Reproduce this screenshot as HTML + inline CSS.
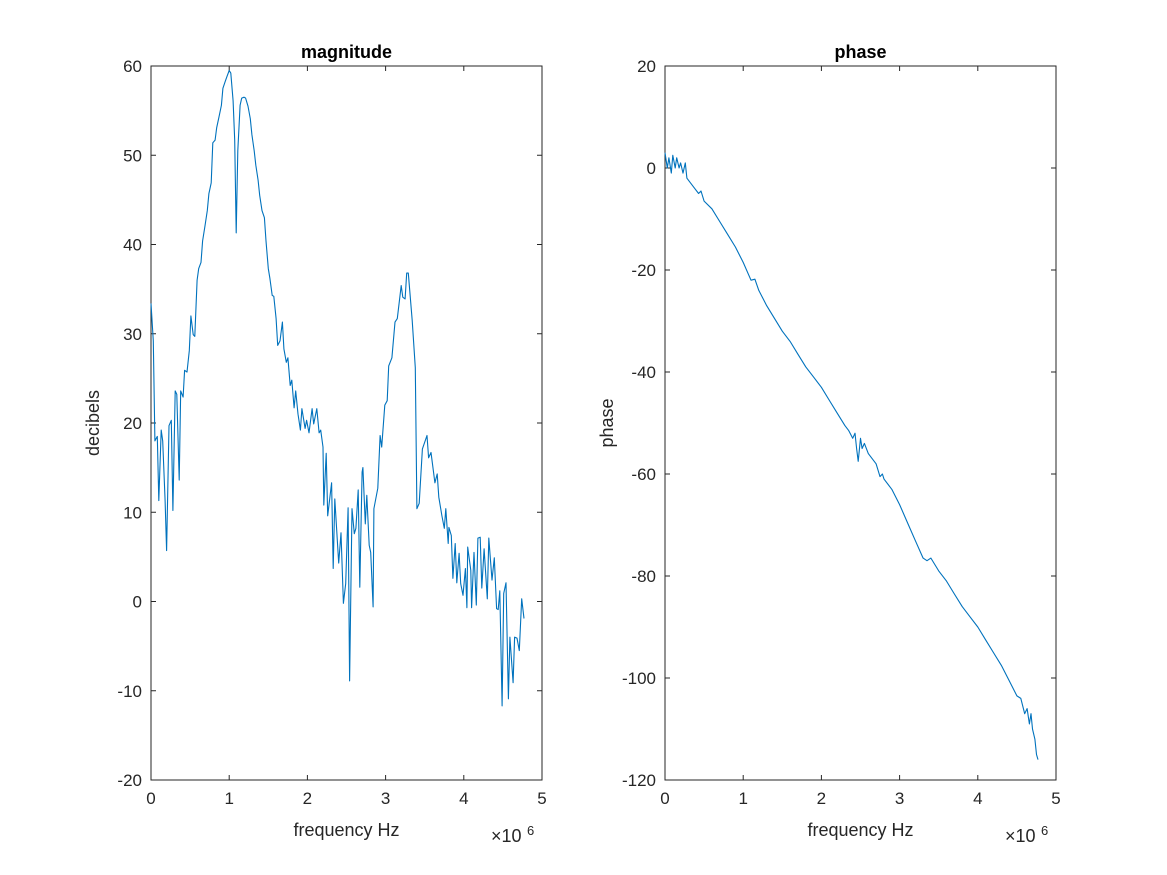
<!DOCTYPE html>
<html><head><meta charset="utf-8"><style>
body{margin:0;background:#fff;}
svg{display:block;font-family:"Liberation Sans",sans-serif;}
</style></head><body>
<svg id="fig" width="1167" height="875"></svg>
<script>
const magFreq=[0,.03,.05,.08,.10,.13,.15,.18,.20,.23,.26,.28,.31,.33,.36,.38,.41,.43,.46,.49,.51,.54,.56,.59,.61,.64,.66,.69,.72,.74,.77,.79,.82,.84,.87,.90,.92,.95,.97,1.00,1.02,1.05,1.07,1.09,1.11,1.14,1.16,1.19,1.21,1.24,1.27,1.29,1.32,1.34,1.37,1.39,1.42,1.45,1.47,1.50,1.52,1.55,1.57,1.60,1.62,1.65,1.68,1.70,1.73,1.75,1.78,1.80,1.83,1.85,1.88,1.91,1.93,1.97,1.99,2.02,2.06,2.08,2.12,2.15,2.17,2.20,2.21,2.24,2.26,2.31,2.33,2.35,2.40,2.43,2.46,2.49,2.52,2.54,2.57,2.60,2.62,2.65,2.67,2.70,2.71,2.74,2.76,2.79,2.81,2.84,2.85,2.90,2.93,2.95,2.99,3.02,3.04,3.08,3.12,3.15,3.20,3.22,3.25,3.27,3.29,3.34,3.38,3.40,3.43,3.47,3.53,3.55,3.58,3.61,3.63,3.66,3.68,3.72,3.75,3.77,3.80,3.81,3.84,3.86,3.89,3.91,3.94,3.96,3.99,4.02,4.04,4.05,4.09,4.10,4.13,4.16,4.18,4.21,4.23,4.26,4.30,4.32,4.36,4.39,4.42,4.44,4.46,4.49,4.51,4.54,4.57,4.59,4.63,4.65,4.68,4.71,4.74,4.77];
const magDb=[33.4,29.2,18.0,18.5,11.3,19.2,18.0,11.3,5.7,19.7,20.3,10.2,23.6,23.2,13.6,23.6,22.9,25.9,25.7,28.1,32.0,29.9,29.7,36.0,37.3,38.0,40.4,42.1,43.8,45.7,46.9,51.4,51.7,53.1,54.3,55.6,57.5,58.3,58.8,59.5,59.2,56.1,51.7,41.3,50.5,55.6,56.4,56.5,56.4,55.5,54.1,52.3,50.5,48.9,47.2,45.5,43.8,43.0,40.4,37.3,36.2,34.3,34.2,31.7,28.7,29.2,31.3,28.3,26.8,27.3,24.2,24.8,21.7,23.6,21.0,19.2,21.6,19.4,20.3,18.9,21.6,19.9,21.6,18.9,19.2,17.3,10.8,16.6,9.6,13.3,3.7,11.5,4.3,7.7,-0.2,2.0,10.5,-8.9,10.4,7.6,8.2,12.5,1.6,14.5,15.0,8.7,11.9,6.3,5.5,-0.6,10.4,12.7,18.6,17.3,22.0,22.5,26.4,27.3,31.3,31.7,35.4,34.1,33.9,36.8,36.8,31.5,26.2,10.4,11.0,17.1,18.6,16.1,16.7,14.7,13.3,14.3,11.7,9.6,8.2,10.4,6.5,8.3,7.4,2.6,6.5,2.1,5.4,2.0,0.7,3.7,-0.7,6.1,3.5,-0.7,5.5,-0.4,7.1,7.2,1.5,5.9,0.3,7.1,2.4,4.9,-0.8,-0.9,1.2,-11.7,0.9,2.1,-10.9,-4.0,-9.1,-4.0,-4.1,-5.5,0.3,-1.9];
const phFreq=[0,.03,.05,.08,.10,.13,.15,.18,.20,.23,.26,.28,.33,.38,.43,.46,.50,.60,.70,.80,.90,1.0,1.1,1.15,1.2,1.3,1.4,1.5,1.6,1.7,1.8,1.9,2.0,2.1,2.2,2.3,2.35,2.4,2.43,2.45,2.47,2.5,2.52,2.55,2.6,2.65,2.7,2.75,2.78,2.8,2.9,3.0,3.1,3.2,3.3,3.35,3.4,3.5,3.6,3.7,3.8,3.9,4.0,4.1,4.2,4.3,4.4,4.5,4.55,4.6,4.63,4.66,4.68,4.7,4.73,4.75,4.77];
const phVal=[3,0,2,-1,2.5,0,2,0,1,-1,1,-2,-3,-4,-5,-4.5,-6.5,-8,-10.5,-13,-15.5,-18.5,-22,-21.8,-24,-27,-29.5,-32,-34,-36.5,-39,-41,-43,-45.5,-48,-50.5,-51.5,-53,-52,-55,-57.5,-53,-55,-54,-56,-57,-58,-60.5,-60,-61,-63,-66,-69.5,-73,-76.5,-77,-76.5,-79,-81,-83.5,-86,-88,-90,-92.5,-95,-97.5,-100.5,-103.5,-104,-107,-106,-109,-107,-110,-112,-115,-116];
const xTicks=[0,1,2,3,4,5];
const magTicks=[-20,-10,0,10,20,30,40,50,60];
const phTicks=[-120,-100,-80,-60,-40,-20,0,20];

const svg=document.getElementById('fig');
const NS='http://www.w3.org/2000/svg';
function mk(t,a,txt){const e=document.createElementNS(NS,t);for(const k in a)e.setAttribute(k,a[k]);if(txt!==undefined)e.textContent=txt;svg.appendChild(e);return e;}

function panel(L,R,T,B,ymin,ymax,yt,xs,ys,title,ylab,key){
  const sx=v=>L+(v-0)/(5-0)*(R-L);
  const sy=v=>B-(v-ymin)/(ymax-ymin)*(B-T);
  let e=mk('rect',{x:L,y:T,width:R-L,height:B-T,fill:'#fff',stroke:'#262626','stroke-width':1});
  
  
  xTicks.forEach(v=>{
    const x=sx(v);
    e=mk('line',{x1:x,y1:B,x2:x,y2:B-5,stroke:'#262626'});
    
    
    mk('line',{x1:x,y1:T,x2:x,y2:T+5,stroke:'#262626'});
    e=mk('text',{x:x,y:B+24,'text-anchor':'middle','font-size':17,fill:'#262626'},String(v));
    
    
  });
  yt.forEach(v=>{
    const y=sy(v);
    e=mk('line',{x1:L,y1:y,x2:L+5,y2:y,stroke:'#262626'});
    
    
    mk('line',{x1:R,y1:y,x2:R-5,y2:y,stroke:'#262626'});
    e=mk('text',{x:L-9,y:y+6,'text-anchor':'end','font-size':17,fill:'#262626'},String(v));
    
    
  });
  const pts=xs.map((f,i)=>sx(f).toFixed(1)+','+sy(ys[i]).toFixed(1)).join(' ');
  e=mk('polyline',{points:pts,fill:'none',stroke:'#0072BD','stroke-width':1.1,'stroke-linejoin':'round'});
  
  
  e=mk('text',{x:(L+R)/2,y:T-8,'text-anchor':'middle','font-size':18,'font-weight':'bold',fill:'#000'},title);
  
  
  e=mk('text',{x:(L+R)/2,y:B+56,'text-anchor':'middle','font-size':18,fill:'#262626'},'frequency Hz');
  
  
  const yc=(T+B)/2;
  e=mk('text',{x:L-52,y:yc,'text-anchor':'middle','font-size':18,fill:'#262626',transform:`rotate(-90 ${L-52} ${yc})`},ylab);
  
  
  e=mk('text',{x:R-51,y:B+62,'font-size':18,fill:'#262626'},'×10');
  
  
  mk('text',{x:R-15,y:B+55,'font-size':13,fill:'#262626'},'6');
}
panel(151,542,66,780,-20,60,magTicks,magFreq,magDb,'magnitude','decibels','magnitude');
panel(665,1056,66,780,-120,20,phTicks,phFreq,phVal,'phase','phase','phase');
</script>
</body></html>
